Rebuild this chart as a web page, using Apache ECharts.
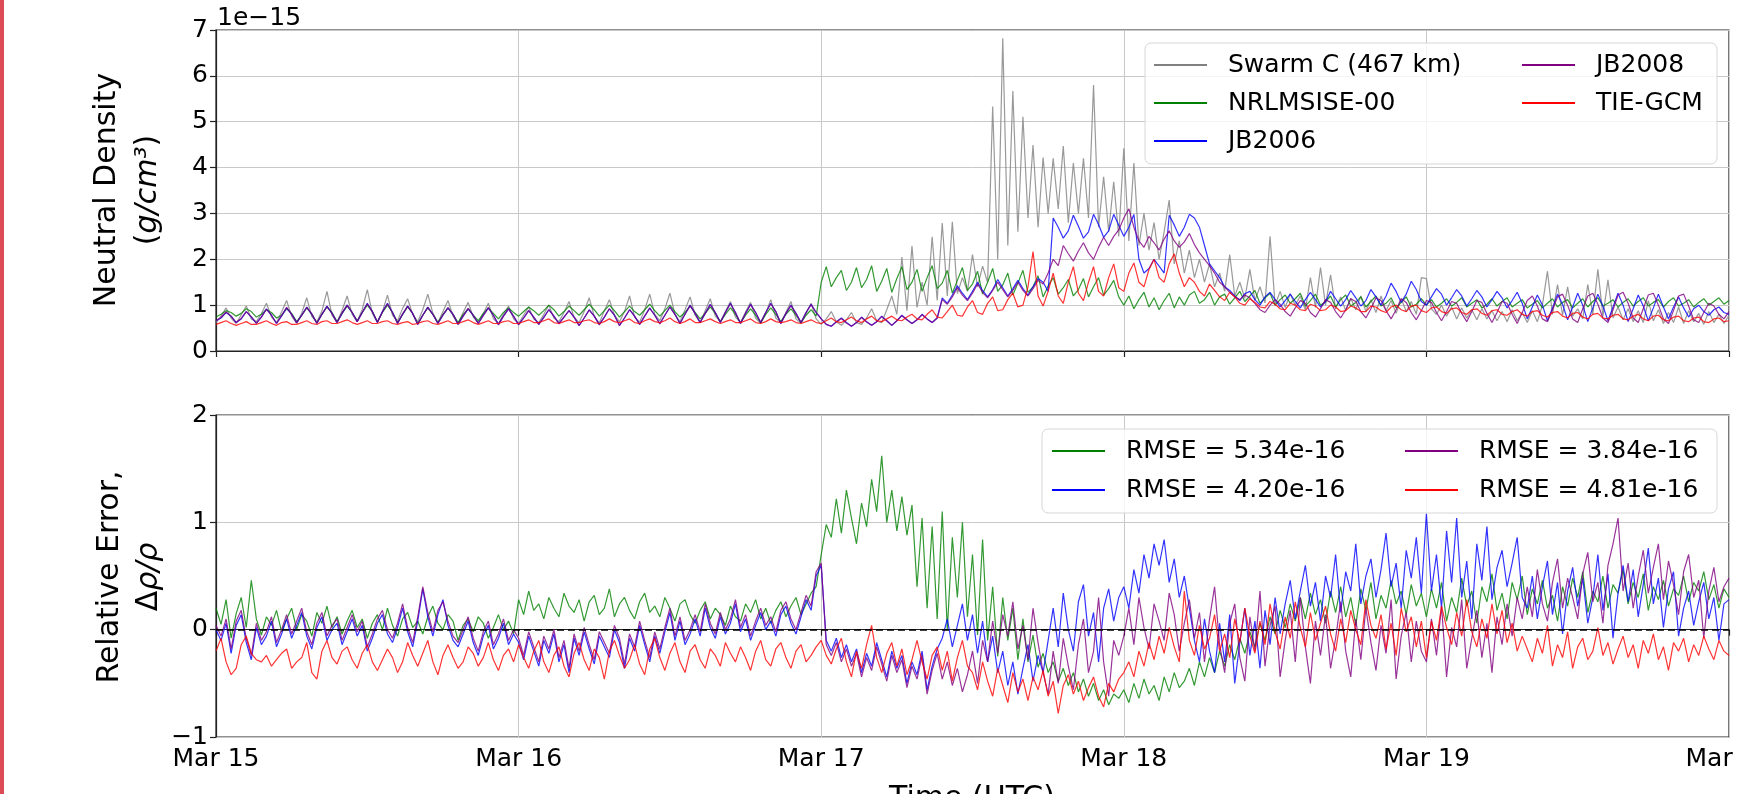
<!DOCTYPE html>
<html>
<head>
<meta charset="utf-8">
<script src="https://cdn.jsdelivr.net/npm/echarts@6/dist/echarts.min.js"></script>
<style>
html,body{margin:0;padding:0;background:#fff;}
#chart{width:1737px;height:794px;}
</style>
</head>
<body>
<div id="chart"></div>
<script>
// Thermospheric neutral density along the Swarm C orbit, 15–20 March 2015.
// One sample every 24 minutes (4 per orbit), values in units of 1e-15 g/cm^3 × 100.
const dayLabels = ['Mar 15', 'Mar 16', 'Mar 17', 'Mar 18', 'Mar 19', 'Mar 20'];
const stepMinutes = 24;
const densityTicks = [0, 1, 2, 3, 4, 5, 6, 7];
const errorTicks = [-1, 0, 1, 2];

const swarmC = [
  62,76,94,72, 60,79,98,70, 64,81,104,74, 62,85,110,76, 60,83,116,75, 63,87,130,78, 62,89,120,80, 64,91,134,82, 62,86,122,78, 66,93,114,80, 64,90,124,82, 62,86,110,76, 60,84,106,74, 62,82,104,70, 60,80,98,70,
  60,78,96,70, 62,80,100,72, 64,84,108,74, 62,86,116,76, 61,88,112,78, 64,86,120,74, 63,90,124,80, 66,92,126,80, 64,90,118,78, 62,88,114,76, 64,86,108,74, 62,85,106,72, 60,82,112,72, 62,84,108,70, 60,82,104,70,
  58,70,86,64, 56,68,84,62, 58,72,92,66, 62,90,120,80, 205,88,229,95, 150,100,249,110, 279,120,282,125, 160,130,210,140, 185,150,533,200, 682,230,567,260, 511,290,449,270, 422,300,420,310, 447,280,410,300, 420,290,580,270, 380,260,369,250,
  442,240,410,230, 300,220,280,200, 260,329,190,240, 170,220,160,200, 150,190,140,170, 130,210,120,150, 115,178,110,140, 105,250,100,130, 95,125,100,120, 90,160,95,182, 100,166,92,118, 88,115,90,120, 86,112,84,120, 88,110,82,114, 86,108,80,160,
  158,92,80,100, 76,96,70,94, 72,90,68,92, 70,88,66,86, 64,90,66,84, 62,88,64,100, 174,80,145,78, 140,76,92,70, 145,80,178,76, 155,72,96,68, 92,64,88,62, 110,66,90,60, 84,62,96,60, 88,64,82,58, 86,62,80,60, 78
];

const nrlmsise = [
  74,80,88,84, 76,82,92,86, 74,80,90,84, 72,78,92,82, 64,78,94,80, 62,80,96,84, 64,82,98,84, 66,84,100,86, 64,84,100,84, 62,80,96,82, 60,78,94,80, 62,80,94,80, 62,80,92,78, 66,82,94,82, 70,84,94,84,
  76,86,96,88, 78,88,100,90, 76,86,98,88, 78,90,102,90, 76,88,100,88, 74,86,98,86, 78,90,102,88, 76,88,100,86, 74,84,98,84, 70,82,96,82, 64,80,94,80, 62,78,92,78, 62,80,94,80, 64,80,92,78, 62,78,90,76,
  150,184,140,160, 176,132,150,182, 138,156,186,130, 152,180,128,158, 184,134,150,178, 130,160,186,136, 148,176,126,154, 182,132,146,174, 124,150,180,130, 144,170,122,148, 176,128,140,164, 118,142,160,124, 138,156,120,134, 158,118,140,160, 122,136,154,118,
  100,120,92,112, 128,96,116,90, 110,126,94,118, 100,122,130,104, 112,128,100,118, 124,102,116,130, 108,120,132,104, 116,126,100,112, 122,104,114,126, 98,110,124,100, 108,120,96,112, 122,98,106,118, 96,108,120,98, 104,116,94,106, 118,96,102,114,
  100,112,96,104, 114,98,106,116, 96,104,112,94, 102,114,98,108, 116,96,104,112, 94,102,110,94, 104,114,96,106, 112,94,104,114, 96,108,116,98, 104,112,96,106, 114,98,108,116, 98,106,112,96, 108,116,98,104, 112,96,106,114, 100,108,116,102, 110
];

const jb2006 = [
  66,72,84,76, 62,70,86,74, 60,74,92,78, 60,76,94,80, 62,78,96,80, 60,80,98,82, 62,82,100,84, 64,84,104,86, 62,86,104,84, 60,80,98,82, 58,78,96,80, 60,78,94,80, 58,76,92,78, 60,78,94,78, 58,76,92,76,
  58,72,88,74, 58,74,90,76, 60,74,88,74, 56,72,90,76, 58,74,92,78, 56,72,90,76, 58,76,94,78, 60,78,96,80, 60,80,100,82, 62,82,102,84, 62,84,104,84, 60,82,102,84, 62,84,104,86, 60,82,100,82, 62,84,102,84,
  70,58,54,64, 72,62,54,62, 74,64,56,64, 76,66,56,66, 78,68,60,68, 80,70,62,72, 116,104,122,142, 126,112,130,150, 132,118,134,156, 138,120,136,154, 136,122,140,158, 150,130,290,270, 246,262,296,272, 246,260,298,276, 248,262,298,274,
  250,270,298,200, 170,180,200,185, 170,296,275,250, 270,298,290,270, 230,190,175,160, 140,132,120,110, 125,130,112,100, 118,128,112,96, 110,124,108,94, 112,128,112,96, 108,130,114,98, 112,132,116,98, 110,134,118,100, 120,148,130,106, 124,152,134,108,
  100,118,136,124, 100,116,134,120, 98,114,132,118, 96,112,130,116, 94,110,128,104, 70,96,122,100, 66,94,124,102, 68,96,126,100, 64,94,124,98, 66,96,126,100, 64,92,122,98, 66,94,124,96, 70,96,118,94, 74,92,100,86, 78,90,96,84, 80
];

const jb2008 = [
  66,73,85,76, 62,71,86,75, 61,74,91,78, 60,77,95,80, 62,78,95,81, 61,80,97,82, 62,83,100,84, 64,84,103,86, 63,85,103,84, 60,81,98,82, 58,78,95,80, 60,79,94,80, 58,76,93,78, 60,77,94,78, 57,76,92,76,
  57,72,88,74, 58,73,90,76, 59,74,88,74, 55,72,89,76, 57,74,92,78, 55,72,90,76, 58,76,93,78, 59,78,96,80, 60,80,99,82, 62,82,101,84, 62,84,103,84, 60,82,101,84, 62,84,103,86, 60,82,99,82, 62,84,101,84,
  70,58,54,63, 71,61,54,62, 73,63,56,64, 75,66,56,66, 77,68,60,68, 79,70,62,72, 112,102,118,138, 122,110,126,146, 128,116,132,150, 134,118,132,150, 132,120,136,154, 146,170,200,186, 230,212,196,218, 236,214,200,226, 248,230,250,264,
  290,310,270,240, 226,250,236,220, 244,262,240,226, 238,256,232,214, 200,186,170,150, 140,128,118,112, 122,116,104,90, 84,100,112,102, 86,76,94,110, 104,84,74,92, 112,106,86,72, 90,114,108,86, 72,92,116,110, 88,70,90,114, 106,84,68,88,
  110,106,84,66, 86,108,104,82, 64,86,110,106, 82,62,84,108, 104,80,60,84, 110,120,98,70, 64,90,118,124, 100,70,62,92, 120,126,102,72, 62,90,122,128, 104,72,62,92, 122,126,100,70, 60,88,120,124, 98,68,62,84, 104,98,80,70, 86
];

const tiegcm = [
  58,62,66,60, 56,60,64,58, 58,62,66,60, 56,62,64,58, 58,62,66,60, 58,64,66,60, 60,64,68,62, 58,62,66,60, 60,64,66,60, 58,62,64,58, 60,64,66,60, 58,62,66,60, 60,64,68,62, 58,62,66,60, 60,64,66,60,
  60,64,68,62, 62,66,70,62, 60,64,68,62, 62,66,68,62, 60,64,70,64, 62,66,70,62, 60,66,70,64, 62,66,72,64, 60,64,70,62, 62,66,70,64, 60,64,68,62, 62,66,70,62, 60,64,70,64, 62,64,68,62, 60,64,68,62,
  60,66,72,64, 62,68,74,66, 62,70,76,66, 64,70,76,68, 66,74,80,70, 68,80,90,74, 72,86,100,78, 76,96,110,84, 80,104,118,88, 90,112,126,96, 100,140,217,120, 98,130,170,120, 104,150,184,126, 110,150,184,130, 120,160,190,138,
  130,170,192,150, 140,178,200,160, 150,190,212,170, 140,160,150,130, 120,146,132,118, 110,128,118,104, 100,114,106,96, 94,108,102,92, 90,104,100,90, 88,102,98,88, 90,100,96,86, 88,98,94,86, 86,98,96,88, 84,96,100,90, 86,98,100,88,
  84,94,96,86, 82,92,94,84, 80,90,92,82, 78,88,90,80, 78,86,90,80, 76,86,88,78, 74,84,86,76, 72,82,84,74, 70,80,82,72, 70,78,80,70, 68,76,80,70, 66,76,78,68, 66,74,76,66, 64,72,74,64, 62,70,72,64, 66
];

// Relative error (model − Swarm C) / Swarm C, × 100
const errNrlmsise = [
  20,5,28,-8,15,30,2,46,10,-5, 12,4,18,-2,10,20,0,14,8,-6, 16,6,22,2,12,-4,8,18,2,10, -8,6,14,0,20,4,-6,10,16,2, 8,-4,12,22,6,0,14,8,-10,4, 10,-2,12,6,-8,2,14,0,8,-4,
  28,14,36,18,24,10,30,20,12,34, 22,16,28,8,26,32,14,20,38,12, 24,30,18,10,26,34,16,22,12,30, 20,8,24,28,14,6,18,26,10,20, 14,4,22,12,8,24,16,28,10,20, 6,18,26,12,22,30,14,24,34,40,
  70,98,86,122,90,130,104,80,118,96, 140,110,162,100,130,92,124,88,116,40, 104,20,96,10,110,0,86,30,100,12, 70,-5,84,-10,40,-25,30,-10,20,-28, 10,-30,-5,-35,-22,-40,-30,-48,-36,-52, -40,-58,-46,-62,-50,-66,-56,-70,-60,-64,
  -56,-68,-50,-64,-46,-60,-52,-66,-44,-58, -40,-54,-48,-36,-52,-30,-44,-26,-40,-20, -34,-14,-28,-8,-22,-2,-16,6,-10,12, -4,18,2,24,8,30,10,34,14,28, 6,36,16,40,12,30,4,38,18,44, 10,32,20,46,24,36,14,42,22,34,
  12,38,20,44,8,30,16,48,22,36, 6,40,26,52,18,34,10,44,28,50, 14,38,24,46,20,32,8,40,22,48, 30,54,16,36,26,50,20,42,34,56, 24,44,30,52,18,40,28,46,22,38, 32,50,26,44,36,54,28,42,20,38, 30
];

const errJb2006 = [
  0,-10,6,-22,4,14,-12,-28,2,-14, -6,8,-16,-4,10,-8,4,16,-6,-18, 2,12,-10,0,6,-14,-2,10,-6,4, -20,-8,6,14,-4,-12,2,20,-2,-16, 8,38,12,-6,14,28,4,-10,-16,-4, 8,-12,-24,-6,4,-18,-8,6,-14,-4,
  -12,-28,-6,-20,-34,-10,-22,-4,-30,-14, -40,-8,-24,-2,-18,-32,-6,-16,-26,0, -12,-36,-8,-20,4,-14,-30,-6,-22,-2, 16,-10,8,-14,-4,10,-6,20,2,-8, 12,-4,6,24,-2,10,-10,4,16,0, 8,-6,14,22,6,-4,12,28,18,50,
  60,-10,-20,-8,-26,-14,-30,-18,-40,-22, -34,-12,-28,-44,-20,-36,-24,-50,-30,-42, -20,-56,-34,-18,-8,10,-16,4,24,-10, 14,-22,8,-30,-6,-40,-20,-52,-30,-60, -36,-14,-48,-24,-40,-10,20,-16,34,0, -20,26,42,-6,16,-30,20,38,8,30,
  40,20,56,34,70,48,80,60,84,44, 66,30,50,20,-10,-30,10,-20,-40,6, -30,14,-50,-12,20,-24,8,-36,18,-14, 30,-4,24,46,10,36,60,22,44,8, 50,30,70,16,54,36,80,24,50,66, 30,56,90,40,62,20,74,48,86,34,
  108,36,70,20,92,44,104,30,64,10, 80,46,96,28,58,74,40,62,86,30, 20,50,10,40,64,14,44,-4,36,58, 22,48,6,30,70,18,52,-8,34,60, 26,56,12,42,76,24,48,2,38,54, -6,20,36,4,26,44,10,30,-10,24, 28
];

const errJb2008 = [
  4,-6,10,-18,8,18,-8,-24,6,-10, -2,12,-12,0,14,-4,8,20,-2,-14, 6,16,-6,4,10,-10,2,14,-2,8, -16,-4,10,18,0,-8,6,24,2,-12, 12,40,16,-2,18,26,8,-6,-12,0, 12,-8,-20,-2,8,-14,-4,10,-10,0,
  -8,-24,-2,-16,-30,-6,-18,0,-26,-10, -36,-4,-20,2,-14,-28,-2,-12,-22,4, -8,-32,-4,-16,8,-10,-26,-2,-18,2, 20,-6,12,-10,0,14,-2,24,6,-4, 16,0,10,28,2,14,-6,8,20,4, 12,-2,18,26,10,0,16,32,22,54,
  62,-14,-24,-12,-30,-18,-34,-22,-44,-26, -38,-16,-32,-48,-24,-40,-28,-54,-34,-46, -24,-60,-38,-22,-46,-30,-52,-36,-58,-42, -20,-50,-10,-30,8,-22,14,-6,26,-18, 4,-28,20,-12,-40,-60,-20,-50,-8,-34, -56,-14,10,-40,-20,30,-30,-62,-10,-24,
  -6,20,-14,30,2,-18,24,8,-10,34, 14,-20,6,28,-8,16,-30,10,40,-14, -40,6,24,-26,-48,12,-20,36,-34,4, 22,-44,-10,18,-30,30,-16,-50,8,-24, 14,-36,-8,26,-20,-44,10,-28,20,-12, -38,4,-22,28,-46,-6,16,-30,8,-20,
  -30,10,-24,22,-44,2,-16,28,-36,-8, 18,-26,6,-40,12,-14,24,-6,30,10, 40,12,56,24,8,44,66,20,48,30, 10,52,72,26,44,6,60,80,104,36, 62,20,50,74,34,58,80,28,64,42, 14,54,70,30,46,-8,36,58,26,40, 48
];

const errTiegcm = [
  -20,-8,-30,-42,-36,-14,-6,-22,-28,-30, -24,-34,-28,-22,-18,-36,-30,-26,-12,-40, -46,-20,-10,-26,-32,-20,-16,-28,-36,-22, -14,-30,-38,-28,-18,-26,-40,-30,-12,-24, -34,-22,-10,-30,-42,-24,-14,-26,-36,-30, -16,-22,-34,-26,-12,-28,-38,-24,-18,-30,
  -14,-26,-36,-20,-10,-30,-40,-24,-16,-34, -44,-22,-12,-28,-38,-18,-26,-46,-20,-10, -24,-36,-28,-14,-32,-42,-18,-8,-26,-38, -22,-12,-30,-40,-20,-14,-28,-36,-18,-24, -34,-12,-22,-30,-16,-26,-38,-20,-10,-28, -34,-18,-12,-26,-36,-20,-14,-30,-24,-16,
  -10,-24,-32,-18,-8,-30,-44,-20,-36,-14, 4,-26,-40,-22,-12,-34,-18,-42,-28,-10, -30,-46,-24,-16,-38,-20,-48,-26,-10,-34, -40,-56,-30,-48,-62,-36,-52,-68,-40,-58, -46,-66,-44,-56,-38,-62,-48,-78,-52,-42, -60,-48,-66,-54,-44,-62,-72,-50,-58,-46,
  -40,-30,-44,-20,-34,-12,-28,-6,-22,2, -16,-30,36,-10,-24,4,-18,-8,14,-20, -4,-26,10,-12,20,-6,-22,8,-14,24, -2,-18,12,-8,26,2,-16,16,-10,6, 22,-4,-20,10,-12,18,0,-14,28,4, -8,14,-18,6,-24,20,-2,12,-16,8,
  -26,8,-10,22,2,-14,16,-6,28,-2, -16,10,-8,24,-4,18,-12,6,-20,-6, -18,-30,-8,-22,4,-34,-14,-26,-2,-36, -16,-8,-28,-20,2,-24,-12,-32,-18,-6, -26,-14,-36,-10,-22,-4,-28,-16,-38,-12, -20,-8,-30,-14,-24,-6,-18,-28,-10,-20, -24
];

const densityNames = ['Swarm C (467 km)', 'NRLMSISE-00', 'JB2006', 'JB2008', 'TIE-GCM'];
const errorNames = ['RMSE = 5.34e-16', 'RMSE = 4.20e-16', 'RMSE = 3.84e-16', 'RMSE = 4.81e-16'];
const colors = { swarm: '#808080', nrl: '#008000', jb06: '#0000ff', jb08: '#800080', tie: '#ff0000' };

// Sample times: "Mar 15 00:00", "Mar 15 00:24", ...
const times = [];
for (let i = 0; i < swarmC.length; i++) {
  const m = i * stepMinutes;
  const d = Math.floor(m / 1440);
  const hh = String(Math.floor((m % 1440) / 60)).padStart(2, '0');
  const mm = String(m % 60).padStart(2, '0');
  times.push(dayLabels[d] + ' ' + hh + ':' + mm);
}
const perDay = 1440 / stepMinutes;

const FONT = 'DejaVu Sans';
const scale = arr => arr.map(v => v / 100);

function lineSeries(name, data, color, axisIdx, extra) {
  return Object.assign({
    name: name, type: 'line', data: scale(data),
    xAxisIndex: axisIdx, yAxisIndex: axisIdx,
    color: color, showSymbol: false, symbol: 'none',
    lineStyle: { width: 1.2, color: color, opacity: 0.8 },
    emphasis: { disabled: true }, silent: true, animation: false
  }, extra || {});
}

function xAxisDef(gridIdx, showLabels) {
  return {
    type: 'category', gridIndex: gridIdx, data: times, boundaryGap: false,
    axisLine: { show: true, lineStyle: { color: '#222', width: 1.2 } },
    axisTick: { show: true, interval: perDay - 1, length: 6, lineStyle: { color: '#222', width: 1.2 } },
    axisLabel: {
      show: showLabels, interval: perDay - 1, margin: 10,
      fontFamily: FONT, fontSize: 25, color: '#000',
      formatter: v => v.slice(0, 6)
    },
    splitLine: { show: true, interval: perDay - 1, lineStyle: { color: '#c8c8c8', width: 1 } }
  };
}

function yAxisDef(gridIdx, ticks) {
  return {
    type: 'value', gridIndex: gridIdx,
    min: ticks[0], max: ticks[ticks.length - 1], interval: 1,
    axisLine: { show: true, lineStyle: { color: '#222', width: 1.2 } },
    axisTick: { show: true, length: 6, lineStyle: { color: '#222', width: 1.2 } },
    axisLabel: {
      fontFamily: FONT, fontSize: 25, color: '#000', margin: 8,
      formatter: v => (v < 0 ? '\u2212' + Math.abs(v) : String(v))
    },
    splitLine: { show: true, lineStyle: { color: '#c8c8c8', width: 1 } }
  };
}

function legendDef(names, left, top, gap) {
  return {
    data: names, orient: 'vertical', left: left, top: top, padding: 0,
    itemWidth: 53, itemHeight: 2, icon: 'rect', itemGap: gap,
    selectedMode: false, z: 6,
    textStyle: { fontFamily: FONT, fontSize: 25, color: '#000', lineHeight: 28, padding: [0, 0, 0, 16] }
  };
}

const chart = echarts.init(document.getElementById('chart'), null, { renderer: 'canvas' });

chart.setOption({
  animation: false,
  backgroundColor: '#ffffff',
  grid: [
    { left: 216, right: 8, top: 30, height: 321, show: true, borderColor: '#222', borderWidth: 1.2,
      containLabel: false, outerBoundsMode: 'none' },
    { left: 216, right: 8, top: 415, height: 322, show: true, borderColor: '#222', borderWidth: 1.2,
      containLabel: false, outerBoundsMode: 'none' }
  ],
  xAxis: [xAxisDef(0, false), xAxisDef(1, true)],
  yAxis: [yAxisDef(0, densityTicks), yAxisDef(1, errorTicks)],
  legend: [
    legendDef(densityNames.slice(0, 3), 1154, 51, 10),
    legendDef(densityNames.slice(3), 1522, 51, 10),
    legendDef(errorNames.slice(0, 2), 1052, 437, 11),
    legendDef(errorNames.slice(2), 1405, 437, 11)
  ],
  series: [
    lineSeries(densityNames[0], swarmC, colors.swarm, 0),
    lineSeries(densityNames[1], nrlmsise, colors.nrl, 0),
    lineSeries(densityNames[2], jb2006, colors.jb06, 0),
    lineSeries(densityNames[3], jb2008, colors.jb08, 0),
    lineSeries(densityNames[4], tiegcm, colors.tie, 0),
    lineSeries(errorNames[0], errNrlmsise, colors.nrl, 1),
    lineSeries(errorNames[1], errJb2006, colors.jb06, 1),
    lineSeries(errorNames[2], errJb2008, colors.jb08, 1),
    lineSeries(errorNames[3], errTiegcm, colors.tie, 1, {
      markLine: {
        silent: true, symbol: 'none', animation: false,
        label: { show: false },
        lineStyle: { color: '#000', type: [7, 4], width: 1.6, opacity: 1 },
        data: [{ yAxis: 0 }]
      }
    })
  ],
  graphic: [
    // edge strip
    { type: 'rect', left: 0, top: 0, shape: { width: 4, height: 794 }, style: { fill: '#dc4a55' } },
    // legend frames
    { type: 'rect', x: 1145, y: 43, z: 5, shape: { width: 572, height: 121, r: 6 },
      style: { fill: 'rgba(255,255,255,0.8)', stroke: '#d6d6d6', lineWidth: 1 } },
    { type: 'rect', x: 1042, y: 429, z: 5, shape: { width: 675, height: 84, r: 6 },
      style: { fill: 'rgba(255,255,255,0.8)', stroke: '#d6d6d6', lineWidth: 1 } },
    // axis offset text
    { type: 'text', x: 217, y: 18, style: { text: '1e\u221215', font: '25px "DejaVu Sans"', fill: '#000', textAlign: 'left', textVerticalAlign: 'middle' } },
    // y-axis titles
    { type: 'text', x: 107, y: 190, rotation: Math.PI / 2,
      style: { text: 'Neutral Density', font: '30px "DejaVu Sans"', fill: '#000', textAlign: 'center', textVerticalAlign: 'middle' } },
    { type: 'text', x: 148, y: 190, rotation: Math.PI / 2,
      style: { text: '{r|(}{i|g/cm\u00b3}{r|)}', fill: '#000', textAlign: 'center', textVerticalAlign: 'middle',
        rich: { r: { fontFamily: FONT, fontSize: 30, fill: '#000' }, i: { fontFamily: FONT, fontSize: 30, fontStyle: 'italic', fill: '#000' } } } },
    { type: 'text', x: 110, y: 577, rotation: Math.PI / 2,
      style: { text: 'Relative Error,', font: '30px "DejaVu Sans"', fill: '#000', textAlign: 'center', textVerticalAlign: 'middle' } },
    { type: 'text', x: 149, y: 577, rotation: Math.PI / 2,
      style: { text: '{r|\u0394}{i|\u03c1/\u03c1}', fill: '#000', textAlign: 'center', textVerticalAlign: 'middle',
        rich: { r: { fontFamily: FONT, fontSize: 30, fill: '#000' }, i: { fontFamily: FONT, fontSize: 30, fontStyle: 'italic', fill: '#000' } } } },
    // x-axis title
    { type: 'text', x: 972, y: 784, style: { text: 'Time (UTC)', font: '30px "DejaVu Sans"', fill: '#000', textAlign: 'center', textVerticalAlign: 'top' } }
  ]
});
</script>
</body>
</html>
